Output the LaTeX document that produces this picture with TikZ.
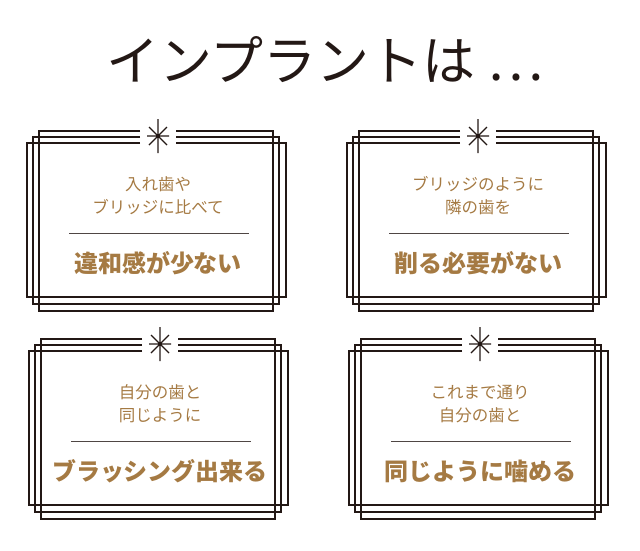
\documentclass[tikz,border=0pt]{standalone}
\usepackage{fontspec}
\newfontfamily\jp{Noto Sans CJK JP}
\definecolor{brn}{HTML}{A57A43}
\definecolor{ink}{HTML}{231815}
\usetikzlibrary{calc}
\begin{document}
\begin{tikzpicture}[x=1pt,y=-1pt,
  fr/.style={draw=ink,line width=1.1pt},
  small/.style={font=\jp\fontsize{16.5}{23}\selectfont,text=brn,align=center},
  big/.style={font=\jp\bfseries\fontsize{24}{28}\selectfont,text=brn}]
\useasboundingbox (0,0) rectangle (640,550);
\node[font=\jp\fontsize{53}{56}\selectfont,text=ink] (title) at (325,60) {インプラントは …};
\newcommand\panel[5]{%
 \begin{scope}[shift={(#1,#2)}]
  \draw[fr] (140,131) -- (39,131) -- (39,311) -- (273,311) -- (273,131) -- (176,131);
  \draw[fr] (140,137) -- (33,137) -- (33,304) -- (279,304) -- (279,137) -- (176,137);
  \draw[fr] (140,143) -- (27,143) -- (27,297) -- (286,297) -- (286,143) -- (176,143);
  \coordinate (s#5) at (158,136);
  \draw[ink,line width=1.1pt] ($(s#5)+(0,-17)$) -- ($(s#5)+(0,17)$)
    ($(s#5)+(-9,-9)$) -- ($(s#5)+(9,9)$) ($(s#5)+(-9,9)$) -- ($(s#5)+(9,-9)$)
    ($(s#5)+(-11,0)$) -- ($(s#5)+(11,0)$);
  \node[small] (t#5) at (158,196) {#3};
  \draw[ink!80,line width=1pt] (69,233) -- (249,233);
  \node[big] (b#5) at (158,263) {#4};
 \end{scope}}
\panel{0}{0}{入れ歯や\\ブリッジに比べて}{違和感が少ない}{a}
\panel{320}{0}{ブリッジのように\\隣の歯を}{削る必要がない}{b}
\panel{2}{208}{自分の歯と\\同じように}{ブラッシング出来る}{c}
\panel{322}{208}{これまで通り\\自分の歯と}{同じように噛める}{d}
\end{tikzpicture}
\end{document}
